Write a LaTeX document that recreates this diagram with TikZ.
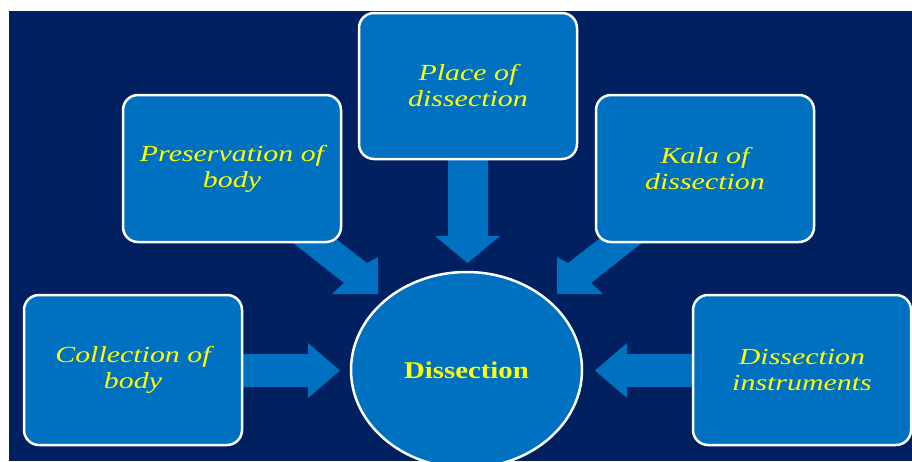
\documentclass[tikz,border=0pt]{standalone}
\usepackage{fontspec}
\usetikzlibrary{shapes.geometric}
\newfontfamily\boxfont[FakeStretch=1.3]{Liberation Serif}
\newfontfamily\hubfont[FakeStretch=1.2]{Liberation Serif}
\definecolor{navy}{HTML}{002060}
\definecolor{boxblue}{HTML}{0070C0}
\definecolor{txtyellow}{HTML}{FFFF00}
\begin{document}
\begin{tikzpicture}[x=1pt,y=-1pt,
  topicbox/.style={draw=white, line width=2.5pt, fill=boxblue, rounded corners=15pt,
    minimum width=218pt, minimum height=147pt, inner sep=0pt, align=center,
    text=txtyellow, font=\boxfont\itshape\fontsize{23}{26}\selectfont},
  hub/.style={ellipse, draw=white, line width=2.5pt, fill=boxblue,
    minimum width=231pt, minimum height=196pt, inner sep=0pt,
    text=txtyellow, font=\hubfont\bfseries\fontsize{24}{28}\selectfont},
  blockarrow/.style={fill=boxblue, draw=none}]
\useasboundingbox (0,0) rectangle (912,461);
\clip (0,0) rectangle (912,461);
\fill[navy] (9,11) rectangle (912,461);
% block arrows
\fill[blockarrow] (235,354) -- (308,354) -- (308,343) -- (340,370.5) -- (308,398) -- (308,387) -- (235,387) -- cycle;
\fill[blockarrow] (700,354) -- (627,354) -- (627,343) -- (595,370.5) -- (627,398) -- (627,387) -- (700,387) -- cycle;
\fill[blockarrow] (448,150) -- (488,150) -- (488,236) -- (500,236) -- (467.5,263) -- (435,236) -- (448,236) -- cycle;
\fill[blockarrow] (283,235) -- (331,235) -- (367,263) -- (378,257) -- (378,294) -- (332,294) -- (344,283) -- cycle;
\fill[blockarrow] (652,235) -- (604,235) -- (568,263) -- (557,257) -- (557,294) -- (603,294) -- (591,283) -- cycle;
% boxes
\node[topicbox, minimum height=146pt] (place) at (468,86) {Place of\\dissection};
\node[topicbox] (pres) at (232,168.5) {Preservation of\\body};
\node[topicbox] (kala) at (705,168.5) {Kala of\\dissection};
\node[topicbox, minimum height=150pt] (coll) at (133,370) {Collection of\\body};
\node[topicbox, minimum height=150pt] (instr) at (802,370) {Dissection\\instruments};
\node[hub] (diss) at (466.5,370) {Dissection};
\end{tikzpicture}
\end{document}
